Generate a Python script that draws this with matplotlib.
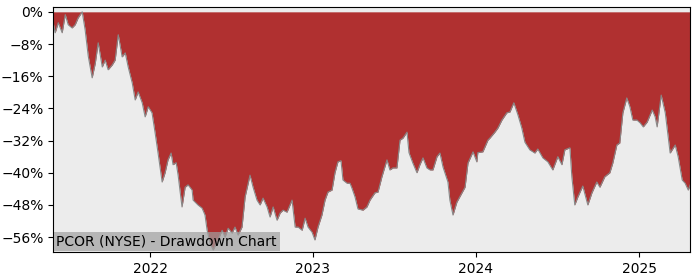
import matplotlib
matplotlib.use("Agg")
import matplotlib.pyplot as plt
import matplotlib.dates as mdates
from matplotlib.ticker import FuncFormatter
import pandas as pd

# time as decimal years, drawdown in percent below the running peak
years = [
    2021.405, 2021.417, 2021.436, 2021.460, 2021.479, 2021.497, 2021.521, 2021.540, 2021.558, 2021.583,
    2021.601, 2021.620, 2021.644, 2021.663, 2021.681, 2021.706, 2021.724, 2021.742, 2021.767, 2021.785,
    2021.804, 2021.828, 2021.847, 2021.865, 2021.890, 2021.908, 2021.926, 2021.951, 2021.969, 2021.988,
    2022.012, 2022.031, 2022.049, 2022.074, 2022.092, 2022.110, 2022.129, 2022.141, 2022.160, 2022.172,
    2022.196, 2022.215, 2022.233, 2022.258, 2022.264, 2022.294, 2022.319, 2022.337, 2022.350, 2022.368,
    2022.387, 2022.417, 2022.442, 2022.460, 2022.479, 2022.503, 2022.521, 2022.540, 2022.564, 2022.583,
    2022.613, 2022.632, 2022.656, 2022.675, 2022.693, 2022.718, 2022.736, 2022.755, 2022.779, 2022.798,
    2022.816, 2022.840, 2022.871, 2022.890, 2022.908, 2022.933, 2022.951, 2022.969, 2022.994, 2023.012,
    2023.031, 2023.055, 2023.074, 2023.092, 2023.117, 2023.135, 2023.153, 2023.172, 2023.184, 2023.209,
    2023.227, 2023.239, 2023.258, 2023.276, 2023.307, 2023.331, 2023.350, 2023.380, 2023.399, 2023.423,
    2023.454, 2023.472, 2023.491, 2023.515, 2023.534, 2023.552, 2023.577, 2023.589, 2023.613, 2023.638,
    2023.656, 2023.675, 2023.699, 2023.718, 2023.736, 2023.761, 2023.779, 2023.798, 2023.828, 2023.840,
    2023.859, 2023.883, 2023.914, 2023.933, 2023.951, 2023.982, 2024.006, 2024.012, 2024.043, 2024.074,
    2024.086, 2024.117, 2024.135, 2024.160, 2024.190, 2024.209, 2024.233, 2024.258, 2024.282, 2024.301,
    2024.331, 2024.362, 2024.380, 2024.411, 2024.442, 2024.472, 2024.503, 2024.528, 2024.546, 2024.577,
    2024.589, 2024.607, 2024.626, 2024.656, 2024.687, 2024.712, 2024.742, 2024.761, 2024.791, 2024.822,
    2024.840, 2024.865, 2024.883, 2024.902, 2024.926, 2024.945, 2024.963, 2024.988, 2025.006, 2025.025,
    2025.049, 2025.080, 2025.098, 2025.110, 2025.135, 2025.160, 2025.190, 2025.221, 2025.239, 2025.264,
    2025.282, 2025.301, 2025.313,
]
drawdown = [
    -2.7, -5.2, -2.7, -5.2, -0.7, -3.2, -4.0, -3.2, -1.5, 0.0,
    -4.5, -11.0, -16.4, -12.8, -7.7, -13.7, -12.0, -14.4, -13.2, -12.0,
    -5.7, -11.2, -10.2, -13.7, -17.7, -21.9, -19.9, -22.6, -26.1, -23.6,
    -25.1, -30.1, -35.1, -42.3, -40.0, -36.8, -35.1, -38.0, -37.5, -40.6,
    -48.5, -43.6, -43.0, -44.3, -46.8, -48.0, -48.8, -50.5, -54.3, -57.5,
    -59.2, -56.7, -54.3, -56.0, -53.8, -55.0, -53.5, -55.5, -53.5, -46.0,
    -40.6, -43.6, -46.8, -48.0, -46.3, -48.5, -51.0, -48.5, -51.8, -50.0,
    -49.3, -49.8, -46.8, -53.5, -53.5, -54.3, -51.3, -53.5, -54.8, -56.7,
    -53.5, -50.5, -46.8, -44.8, -44.3, -40.0, -37.3, -37.0, -41.8, -42.6,
    -42.6, -43.8, -46.0, -49.0, -49.3, -48.5, -46.8, -45.0, -44.8, -41.0,
    -36.8, -39.3, -38.8, -38.8, -31.9, -31.4, -29.9, -35.0, -37.6, -40.0,
    -38.0, -36.3, -38.8, -39.3, -39.3, -36.0, -35.1, -38.6, -42.3, -46.8,
    -50.5, -47.3, -45.0, -43.6, -37.6, -34.8, -37.3, -35.0, -34.8, -31.9,
    -31.4, -29.9, -28.9, -26.9, -25.1, -24.9, -22.6, -25.6, -28.9, -32.4,
    -34.3, -35.1, -34.1, -36.3, -37.3, -39.3, -36.0, -38.0, -34.3, -33.8,
    -41.0, -48.0, -46.0, -43.3, -48.0, -45.0, -42.3, -43.6, -41.0, -40.0,
    -37.6, -33.1, -32.6, -25.1, -21.4, -23.6, -26.9, -26.9, -27.6, -28.6,
    -27.4, -24.4, -26.1, -28.6, -20.7, -25.1, -35.1, -33.1, -36.0, -41.8,
    -42.6, -44.3, -43.0,
]
yticks = [0, -8, -16, -24, -32, -40, -48, -56]
title_text = "PCOR (NYSE) - Drawdown Chart"


def to_date(y):
    start = pd.Timestamp(int(y), 1, 1)
    return start + pd.Timedelta(days=(y - int(y)) * 365.25)


x = [to_date(y) for y in years]

fig = plt.figure(figsize=(7, 2.8), dpi=100)
ax = fig.add_axes([0.076, 0.1, 0.91, 0.875])
ax.set_facecolor("#ececec")

ax.fill_between(x, drawdown, 0, color="#b03030", linewidth=0)
ax.plot(x, drawdown, color="#888888", linewidth=0.8)

ax.set_xlim(x[0], x[-1])
ax.set_ylim(-59.7, 1.2)
ax.set_yticks(yticks)
ax.yaxis.set_major_formatter(FuncFormatter(lambda v, p: f"{v:.0f}%".replace("-", "\u2212")))
ax.xaxis.set_major_locator(mdates.YearLocator())
ax.xaxis.set_major_formatter(mdates.DateFormatter("%Y"))

ax.text(0.005, 0.015, title_text, transform=ax.transAxes, fontsize=10,
        ha="left", va="bottom",
        bbox=dict(facecolor="#a0a0a0", alpha=0.7, edgecolor="none", pad=2))

fig.savefig("out.png")
